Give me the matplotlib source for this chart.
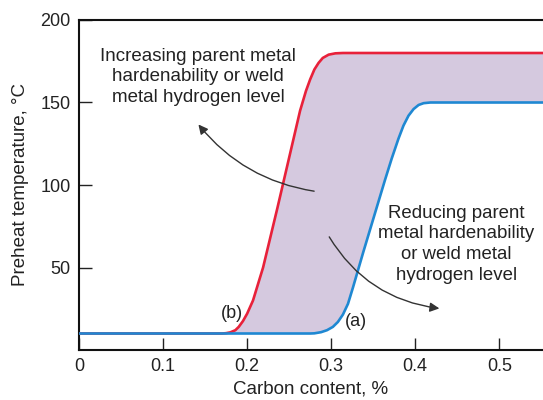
import matplotlib.pyplot as plt

plt.rcParams['font.family'] = ['Liberation Sans', 'DejaVu Sans']

# curve (b): red, upper bound
red_x = [0, 0.17, 0.175, 0.18, 0.186, 0.19, 0.195, 0.20, 0.207, 0.219, 0.236, 0.263,
         0.27, 0.275, 0.28, 0.285, 0.29, 0.297, 0.305, 0.314, 0.552]
red_y = [10, 10, 10.2, 10.7, 12, 14, 17.5, 22, 30, 50, 86, 145,
         157, 164, 170, 174, 177, 179, 179.8, 180, 180]

# curve (a): blue, lower bound
blue_x = [0, 0.275, 0.28, 0.288, 0.295, 0.302, 0.308, 0.314, 0.32, 0.326, 0.338, 0.364,
          0.372, 0.38, 0.386, 0.392, 0.398, 0.404, 0.41, 0.418, 0.552]
blue_y = [10, 10, 10.1, 10.8, 12, 14, 17, 21.5, 28, 38, 59, 103,
          116, 128, 136, 142, 146, 148.5, 149.6, 150, 150]

x_ticks = [0, 0.1, 0.2, 0.3, 0.4, 0.5]
x_labels = ["0", "0.1", "0.2", "0.3", "0.4", "0.5"]
y_ticks = [50, 100, 150, 200]

fig = plt.figure(figsize=(5.43, 4.0), dpi=100)
ax = fig.add_axes([79 / 543, 50 / 400, 1 - 79 / 543, 330 / 400])

# shaded band between the two curves
ax.fill(red_x + blue_x[::-1], red_y + blue_y[::-1], color='#d5c9df', lw=0, zorder=1)
ax.plot(red_x, red_y, color='#e8213a', lw=1.9, zorder=3, solid_joinstyle='round')
ax.plot(blue_x, blue_y, color='#1f88d2', lw=1.9, zorder=3, solid_joinstyle='round')

ax.set_xlim(0, 0.552)
ax.set_ylim(0, 200)
ax.set_xticks(x_ticks)
ax.set_xticklabels(x_labels)
ax.set_yticks(y_ticks)
ax.tick_params(direction='in', length=9, width=1, labelsize=13, pad=6, colors='#222222')
ax.spines['right'].set_visible(False)
for s in ['left', 'bottom', 'top']:
    ax.spines[s].set_linewidth(1.5)
    ax.spines[s].set_color('#111111')

ax.set_xlabel("Carbon content, %", fontsize=13.5, color='#222222', labelpad=4)
ax.set_ylabel("Preheat temperature, °C", fontsize=13.5, color='#222222', labelpad=8)

ax.text(0.142, 165.5, "Increasing parent metal\nhardenability or weld\nmetal hydrogen level",
        ha='center', va='center', fontsize=13.5, color='#222222', linespacing=1.3)
ax.text(0.449, 64, "Reducing parent\nmetal hardenability\nor weld metal\nhydrogen level",
        ha='center', va='center', fontsize=13.4, color='#222222', linespacing=1.3)

ax.text(0.182, 22.4, "(b)", ha='center', va='center', fontsize=13, color='#222222')
ax.text(0.330, 17, "(a)", ha='center', va='center', fontsize=13, color='#222222')

ax.annotate("", xy=(0.140, 138), xytext=(0.283, 96),
            arrowprops=dict(arrowstyle='-|>', color='#333333', lw=1.0,
                            mutation_scale=14, connectionstyle='arc3,rad=-0.2'), zorder=4)
ax.annotate("", xy=(0.432, 25), xytext=(0.296, 70),
            arrowprops=dict(arrowstyle='-|>', color='#333333', lw=1.0,
                            mutation_scale=14, connectionstyle='arc3,rad=0.25'), zorder=4)

fig.savefig("out.png", dpi=100)
